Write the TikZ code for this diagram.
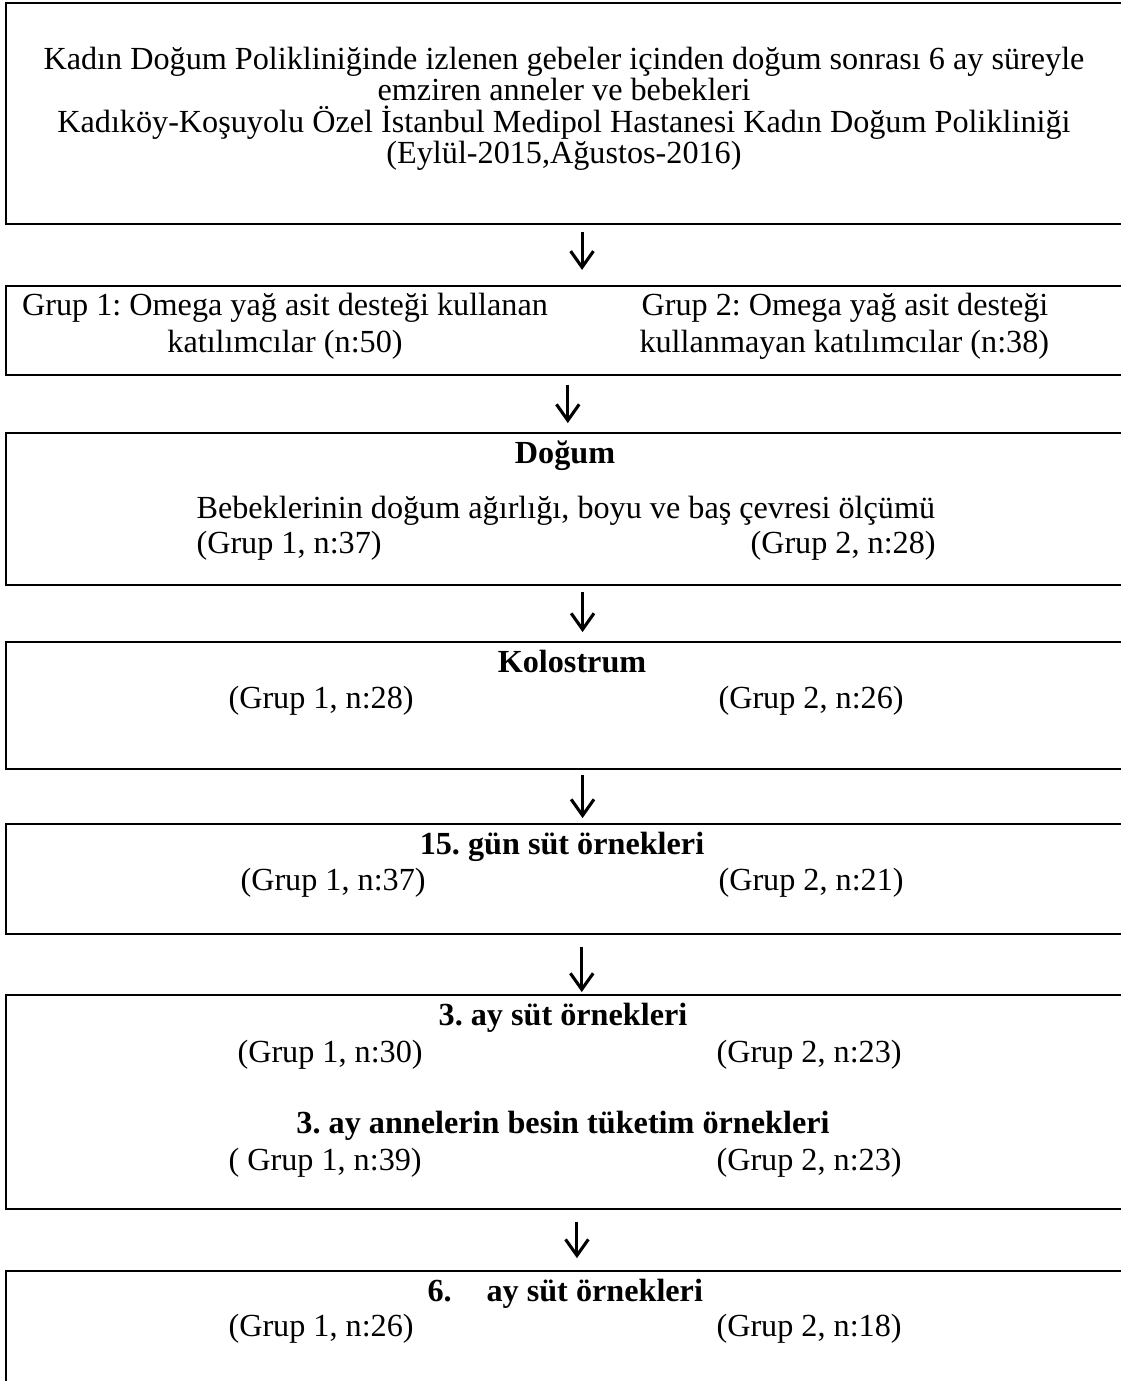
\documentclass[tikz,border=0pt]{standalone}
\usepackage{fontspec}
\setmainfont{Liberation Serif}
\usepackage{tikz}
\usetikzlibrary{arrows.meta, fit}
\frenchspacing

\tikzset{
  flowbox/.style={draw, line width=1.1pt, inner sep=0pt, outer sep=0pt},
  flowarrow/.style={line width=1.15pt, -{Straight Barb[length=6pt, width=8.5pt, line width=1.15pt]}},
  lbl/.style={inner sep=0pt, anchor=base},
  lblw/.style={inner sep=0pt, anchor=base west},
}

\begin{document}
\begin{tikzpicture}[x=0.3727pt, y=-0.3727pt, every node/.style={font=\fontsize{12pt}{11.7pt}\selectfont\frenchspacing}]
	\useasboundingbox (0,0) rectangle (1121,1381);
	\clip (0,0) rectangle (1121,1381);
	% boxes, cut off at the right edge
	\node[flowbox, fit={(6,3) (1135,224)}] (b1) {};
	\node[flowbox, fit={(6,286) (1135,375)}] (b2) {};
	\node[flowbox, fit={(6,433) (1135,585)}] (b3) {};
	\node[flowbox, fit={(6,642) (1135,769)}] (b4) {};
	\node[flowbox, fit={(6,824) (1135,934)}] (b5) {};
	\node[flowbox, fit={(6,995) (1135,1209)}] (b6) {};
	\node[flowbox, fit={(6,1271) (1135,1420)}] (b7) {};

	% arrows
	\draw[flowarrow, shorten <=3pt, shorten >=6pt] ([xshift=4.3pt]b1.south) -- ([xshift=4.3pt]b2.north);
	\draw[flowarrow, shorten <=3.7pt, shorten >=3.7pt] ([xshift=-1pt]b2.south) -- ([xshift=-1pt]b3.north);
	\draw[flowarrow, shorten <=2.6pt, shorten >=3.7pt] ([xshift=4.5pt]b3.south) -- ([xshift=4.5pt]b4.north);
	\draw[flowarrow, shorten <=2.2pt, shorten >=2.2pt] ([xshift=4.5pt]b4.south) -- ([xshift=4.5pt]b5.north);
	\draw[flowarrow, shorten <=4.8pt, shorten >=1.1pt] ([xshift=4.2pt]b5.south) -- ([xshift=4.2pt]b6.north);
	\draw[flowarrow, shorten <=4.8pt, shorten >=4.8pt] ([xshift=2.4pt]b6.south) -- ([xshift=2.4pt]b7.north);

	% box 1
	\node[lbl] (t1a) at (564,69) {Kadın Doğum Polikliniğinde izlenen gebeler içinden doğum sonrası 6 ay süreyle};
	\node[lbl] (t1b) at (564,100) {emziren anneler ve bebekleri};
	\node[lbl] (t1c) at (564,132) {Kadıköy-Koşuyolu Özel İstanbul Medipol Hastanesi Kadın Doğum Polikliniği};
	\node[lbl] (t1d) at (564,163) {(Eylül-2015,Ağustos-2016)};

	% box 2
	\node[lbl] (g2a) at (285,315) {Grup 1: Omega yağ asit desteği kullanan};
	\node[lbl] (g2b) at (285,352) {katılımcılar (n:50)};
	\node[lblw] (g2c) at (641,315) {Grup 2: Omega yağ asit desteği};
	\node[lblw] (g2d) at (639,352) {kullanmayan katılımcılar (n:38)};

	% box 3
	\node[lbl] (t3) at (565,463) {\bfseries Doğum};
	\node[lblw] (t3a) at (196,518) {Bebeklerinin doğum ağırlığı, boyu ve baş çevresi ölçümü};
	\node[lblw] (g3a) at (196,553) {(Grup 1, n:37)};
	\node[lblw] (g3b) at (750,553) {(Grup 2, n:28)};

	% box 4
	\node[lbl] (t4) at (572,672) {\bfseries Kolostrum};
	\node[lblw] (g4a) at (228,708) {(Grup 1, n:28)};
	\node[lblw] (g4b) at (718,708) {(Grup 2, n:26)};

	% box 5
	\node[lbl] (t5) at (562,854) {\bfseries 15. gün süt örnekleri};
	\node[lblw] (g5a) at (240,890) {(Grup 1, n:37)};
	\node[lblw] (g5b) at (718,890) {(Grup 2, n:21)};

	% box 6
	\node[lbl] (t6) at (563,1025) {\bfseries 3. ay süt örnekleri};
	\node[lblw] (g6a) at (237,1062) {(Grup 1, n:30)};
	\node[lblw] (g6b) at (716,1062) {(Grup 2, n:23)};
	\node[lbl] (t6b) at (563,1133) {\bfseries 3. ay annelerin besin tüketim örnekleri};
	\node[lblw] (g6c) at (228,1170) {( Grup 1, n:39)};
	\node[lblw] (g6d) at (716,1170) {(Grup 2, n:23)};

	% box 7
	\node[lblw] (t7) at (427,1301) {\bfseries 6.\hspace{13pt}ay süt örnekleri};
	\node[lblw] (g7a) at (228,1336) {(Grup 1, n:26)};
	\node[lblw] (g7b) at (716,1336) {(Grup 2, n:18)};
\end{tikzpicture}
\end{document}
